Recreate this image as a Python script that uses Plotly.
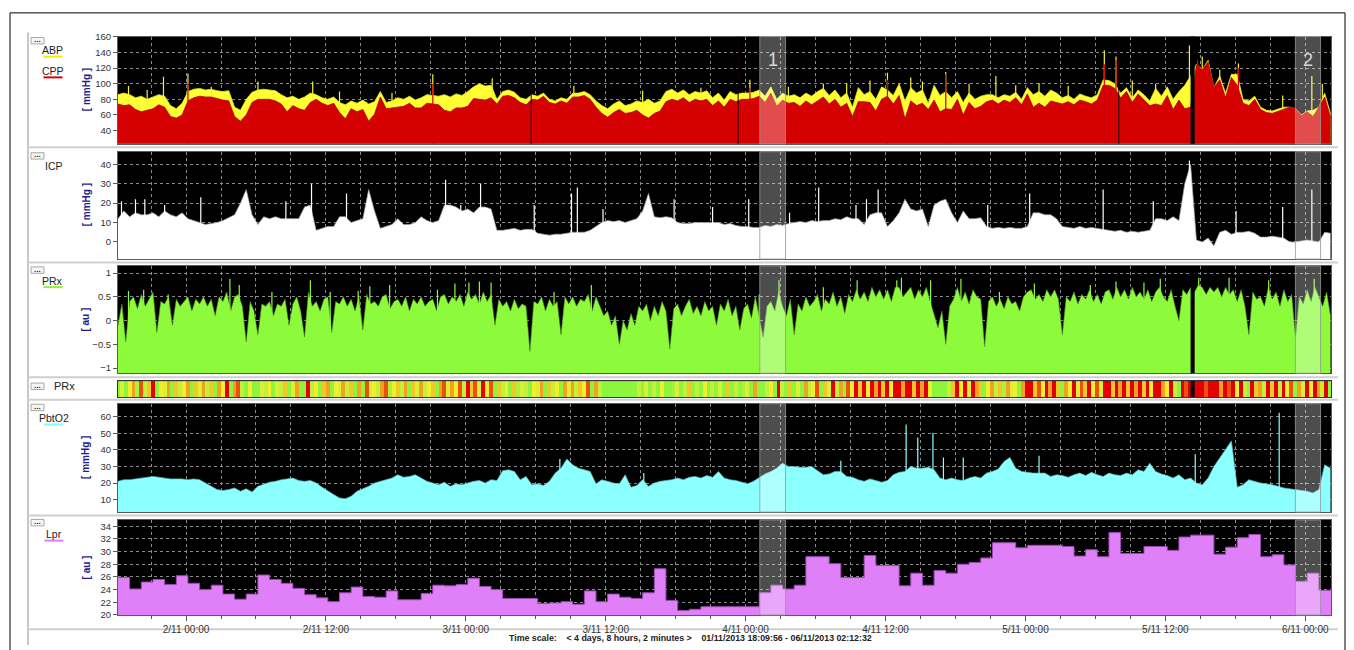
import numpy as np
import pandas as pd
import plotly.graph_objects as go

# ---------------- DATA ----------------
START = pd.Timestamp("2013-11-01 18:09:56")
END = pd.Timestamp("2013-11-06 02:12:32")

# half-hourly samples (hours from START = index * 0.5)
abp = [86,88,86,82,84,80,83,86,84,72,
       68,75,90,93,94,92,93,91,90,91,
       70,66,80,89,92,93,92,91,86,82,
       84,80,83,88,86,82,80,83,76,73,
       78,75,79,74,77,90,76,78,82,80,
       84,79,82,86,85,84,86,83,87,85,
       90,96,100,97,98,80,90,92,89,82,
       80,86,84,88,80,78,82,80,88,88,
       90,86,78,72,68,74,78,72,74,78,
       76,80,75,78,90,93,88,92,86,90,
       88,91,82,88,79,90,86,88,88,89,
       92,84,96,80,88,84,86,82,88,84,
       90,94,85,92,82,88,70,95,86,90,
       80,96,92,85,100,78,95,88,92,75,
       98,85,90,82,90,76,88,80,84,86,
       86,82,86,84,89,80,95,86,90,84,
       92,88,82,85,80,87,84,82,86,105,
       104,100,88,95,82,92,86,78,94,84,
       96,80,90,98,110,125,118,130,95,110,
       88,112,112,80,78,84,70,66,65,68,
       70,70,68,60,65,66,70,88,62]

cpp = [74,72,73,67,64,66,68,73,70,58,
       56,60,78,82,84,83,83,81,79,78,
       58,52,60,76,80,80,80,78,74,64,
       72,68,66,76,80,75,72,75,63,55,
       68,64,67,52,61,83,68,69,70,71,
       75,69,69,75,74,73,66,64,69,69,
       71,81,80,79,82,74,84,85,82,76,
       73,80,79,84,76,74,78,75,83,83,
       85,80,70,62,57,63,67,62,63,66,
       60,56,62,65,77,80,78,82,76,80,
       78,80,72,78,70,80,77,80,80,81,
       84,76,88,71,79,75,76,71,78,73,
       78,83,74,80,70,75,58,77,77,76,
       65,80,84,74,85,55,78,72,75,67,
       79,64,68,67,80,60,76,68,71,77,
       79,74,79,76,82,73,87,70,75,70,
       78,76,74,77,73,79,77,74,79,98,
       98,94,82,90,76,87,80,72,74,72,
       85,67,79,68,70,124,118,128,95,105,
       82,108,98,75,72,80,67,63,62,65,
       68,70,68,59,64,58,70,83,57]

icp = [12,16,13,15,14,14,15,13,16,14,
       13,15,12,11,10,9,9.5,10,11,12.5,
       14,20,27,14,9,13,12,13,12,12,
       12,12,18,19,6,7,8,8,13,13,
       10,11,12,27,16,7,8,9,12,9,
       9,10,13,11,10,11,19,19,18,16,
       17,15,18,18,17,6,6,6.5,7,6,
       6.5,6.5,4.5,4,3.5,4,4,4.5,5,5,
       5,6,8,10,11,10.5,11,10,11,12,
       16,25,13,12.5,13,12.5,10,9.5,9.5,10,
       10,10,10,10,9,9.5,8.5,8,8,7.5,
       7.5,8.5,8,9,8.5,9.5,10,10.5,10,11,
       10.5,11,11,12,11.5,13,12,12,9,14,
       15,15,8,11,15,22,17,16,17,8,
       19,21,22,15,10,16,12,12,12.5,8,
       7,7.5,7,7.5,7,7,8,15,15,14,
       14,12,8,7.5,7,8,7,7.5,7,6.5,
       6,5.5,6,5,5.5,5,5.5,6,12,12,
       11,13,11,30,40,1,0,2,-2,5,
       6,4,5,5,5.5,4.5,2.5,2.5,3,2.5,
       2,0,0,0.5,1,0.5,0,5,4.5]

pbto2 = [21,22, 22,22.5, 23,23.5, 24,23.5, 23,22.5, 22.5,22.5, 22,22.5, 22,20,
         17.5,16, 15.5,16, 17,15, 16.5,14.5, 18,19.5, 20.5,21, 22,22.5, 23,21.5,
         21,21.5, 20,17.5, 15,13, 11,10.5, 12,15, 16.5,18, 20,21, 22,23,
         25,23.5, 24,25, 23,21, 20,19, 20.5,18, 19.5,19, 20,21, 21.5,20,
         22,21.5, 27.5,28, 27,22, 24,19, 19.5,18.5, 21,26, 29,34.5, 31,29,
         28,27, 19.5,22, 21,20, 19.5,25, 17.5,18.5, 22,18, 20,21, 21.5,22,
         23,22, 23.5,24, 23,24.5, 23.5,27, 23,22, 21.5,20.5, 19.5,21, 23.5,25.5,
         27,29, 32,30, 30,29.5, 29.5,30, 27.5,25, 25.5,27, 27,24, 23.5,22,
         21,22.5, 21.5,20.5, 21.5,25, 26.5,27, 30,29, 29,29.5, 28,23, 22,23,
         22,21.5, 23,24, 23,26, 27,28.5, 33,35.5, 29,27, 26.5,26, 26,26,
         24,25, 24.5,23.5, 25,26, 24.5,26.5, 25,24, 26,25, 24.5,26, 25,28,
         27,32, 27,25.5, 24.5,23, 25,22, 23,20, 19,23, 30,35, 40,45.5,
         17.5,19, 22,21, 20,19.5, 19,18, 17,16.5, 16,15.5, 15,14, 16,31,
         29]

# thin needle artefacts (hours from START, value)
abp_spike_h = [0.9, 2.5, 3.9, 6.0, 8.0, 12.0, 16.7, 19.0, 23.5, 27.0, 32.1, 39.1, 45.0, 50.0, 54.2,
               57.5, 60.5, 62.5, 64.5, 66.0, 68.0, 69.0, 71.0, 73.0, 75.3, 77.0, 79.0, 81.5, 84.6,
               85.6, 87.0, 89.0, 91.9, 93.0, 94.5, 96.1, 99.9, 102.4, 103.3]
abp_spike_v = [97, 92, 109, 113, 96, 103, 103, 90, 88, 112, 107, 97, 91, 95, 105,
               96, 100, 101, 104, 114, 108, 103, 115, 100, 110, 98, 101, 97, 143,
               135, 104, 100, 149, 135, 118, 126, 85, 110, 100]
cpp_spike_h = [6.0, 27.0, 54.2, 66.0, 71.0, 84.6, 85.6, 92.6, 96.1]
cpp_spike_v = [100, 100, 95, 105, 112, 125, 130, 130, 120]
icp_spike_h = [0.3, 1.5, 2.3, 4.0, 7.1, 14.4, 16.6, 19.6, 28.1, 29.4, 31.1, 35.7, 38.9, 39.4, 41.6,
               47.7, 51.0, 54.1, 57.6, 60.1, 63.3, 64.2, 65.2, 74.6, 78.2, 84.5, 88.8, 91.9, 95.9,
               99.9, 102.4]
icp_spike_v = [21, 22, 22, 19, 23, 21, 30, 25, 32, 19, 30, 19, 25, 28, 17,
               22, 18, 22, 15, 28, 19, 22, 27, 19, 25, 27, 21, 42, 16,
               18, 27]
pbt_spike_h = [37.9, 45.1, 62.0, 67.6, 68.6, 69.9, 70.8, 72.5, 79.0, 92.4, 99.6]
pbt_spike_v = [34.5, 26, 33.5, 55.5, 47.5, 50.5, 35.5, 35.5, 36.5, 37.5, 62.6]

# PRx, 20-minute samples (hours from START = index / 3)
prx = [-0.1,0.35,-0.45, 0.4,0.5,0.25, 0.55,0.3,0.45, 0.6,-0.25,0.4,
       0.35,0.5,-0.1, 0.45,0.3,0.4, 0.5,0.2,0.45, 0.35,0.5,0.3,
       0.45,0.1,0.5, 0.4,0.6,0.2, 0.5,0.55,0.3, -0.45,0.4,0.2,
       -0.3,0.35,0.3, 0.4,0.1,0.35, 0.3,0.45,-0.1, 0.35,0.5,0.2,
       -0.35,0.6,0.3, 0.4,0.2,0.45, 0.5,-0.25,0.4, 0.35,0.5,0.3,
       0.45,0.2,0.5, -0.2,0.55,0.35, 0.4,0.3,0.5, 0.55,0.25,0.4,
       0.45,0.3,0.5, 0.2,0.45,0.35, 0.5,0.3,0.4, 0.45,0.2,0.5,
       0.55,0.35,0.5, 0.4,0.55,0.3, 0.6,0.45,0.55, 0.35,0.6,0.4,
       0.55,-0.1,0.45, 0.3,0.4,0.2, 0.45,0.25,0.35, 0.3,-0.65,0.4,
       0.35,0.5,0.2, 0.45,0.3,0.4, -0.3,0.5,0.35, 0.5,0.3,0.45,
       0.4,0.55,0.2, 0.5,0.3,0.1, 0.2,-0.1,0.1, -0.5,0.0,-0.2,
       0.15,-0.1,0.3, 0.2,0.35,0.0, 0.3,0.1,0.4, 0.2,-0.6,0.25,
       0.35,0.1,0.3, 0.45,0.15,0.3, 0.1,0.4,0.2, 0.3,-0.1,0.35,
       0.2,0.45,0.1, 0.3,-0.2,0.25, 0.35,0.05,0.5, 0.1,-0.35,0.3,
       0.4,0.2,0.6, 0.3,0.1,0.45, -0.3,0.35,0.2, 0.5,0.3,0.4,
       0.55,0.2,0.45, 0.35,0.6,0.3, 0.5,0.15,0.55, 0.4,0.65,0.45,
       0.6,0.4,0.7, 0.5,0.65,0.45, 0.65,0.4,0.7, 0.7,0.5,0.6,
       0.7,0.45,0.65, 0.5,0.7,0.4, 0.1,-0.15,0.2, -0.5,0.3,0.45,
       0.7,0.4,0.6, 0.35,0.65,0.5, 0.45,-0.55,0.4, 0.5,0.3,0.45,
       0.25,0.5,0.35, 0.4,0.2,0.5, 0.6,0.65,0.45, 0.55,0.4,0.65,
       0.5,0.65,0.45, -0.3,0.5,0.4, 0.6,0.35,0.55, 0.45,0.65,0.4,
       0.55,0.35,0.6, 0.65,0.45,0.7, 0.5,0.65,0.45, 0.7,0.5,0.6,
       0.45,0.65,0.4, 0.6,0.7,0.5, 0.4,0.65,0.3, 0.0,0.65,0.55,
       0.7,0.6,0.75, 0.7,0.55,0.7, 0.6,0.7,0.5, 0.7,0.55,0.65,
       0.4,0.65,0.3, -0.3,0.6,0.45, 0.5,0.3,0.7, 0.45,0.6,0.3,
       0.65,0.4,0.55, -0.35,0.5,0.35, 0.65,0.4,0.7, 0.5,0.3,0.6,
       0.1]
prx_spike_h = [0.9, 2.2, 4.3, 9.6, 10.4, 13.2, 16.5, 18.2, 20.6, 21.6, 23.3, 27.4, 28.9, 30.1, 31.0,
               32.0, 37.4, 40.6, 55.0, 56.7, 60.5, 63.4, 66.8, 67.2, 69.7, 72.3, 75.6, 78.6, 83.4,
               85.6, 88.0, 89.4, 92.7, 95.3, 98.7, 102.6]
prx_spike_v = [0.62, 0.65, 0.55, 0.88, 0.75, 0.6, 0.85, 0.6, 0.62, 0.72, 0.75, 0.65, 0.78, 0.8, 0.82,
               0.8, 0.6, 0.75, 0.55, 0.85, 0.7, 0.85, 0.85, 0.9, 0.85, 0.88, 0.6, 0.78, 0.75,
               0.82, 0.8, 0.88, 0.9, 0.9, 0.85, 0.88]

# Lpr, hourly values (hour k from START)
lpr = [25.9,24.1,25.2,25.6,24.8,26.2,25.0,24.0,24.7,23.3,
       22.5,23.3,26.3,25.6,25.0,24.2,23.2,22.7,22.1,23.5,
       24.4,22.9,22.8,23.8,22.4,22.4,23.4,24.7,24.6,24.8,
       25.8,24.5,24.0,22.6,22.6,22.6,21.8,21.9,22.1,21.7,
       23.8,22.1,23.3,22.8,22.6,23.5,27.3,22.3,20.7,20.9,
       21.3,21.3,21.3,21.3,21.3,23.5,24.7,24.1,24.7,29.2,
       29.2,28.1,25.9,25.9,29.4,27.8,27.8,24.6,26.6,24.7,
       27.0,26.6,28.0,28.3,29.0,31.4,31.4,30.6,31.0,31.0,
       31.0,30.8,29.3,30.3,29.2,33.0,29.7,29.7,30.8,30.8,
       30.2,32.3,32.6,32.6,29.6,30.7,32.2,32.7,29.2,29.5,
       27.9,25.3,26.6,23.9]

# marked episodes (hours from START) and data gaps
bands_h = [(55.05, 57.26), (100.99, 103.15)]
band_labels = ["1", "2"]
gap_span_h = (92.0, 92.35)
gap_lines_h = [35.44, 53.19, 85.84]

# axis ranges / ticks
ABP_RANGE, ABP_TICKS = [23, 160.5], [40, 60, 80, 100, 120, 140, 160]
ICP_RANGE, ICP_TICKS = [-8.8, 46.5], [0, 10, 20, 30, 40]
PRX_RANGE, PRX_TICKS = [-1.11, 1.15], [-1, -0.5, 0, 0.5, 1]
PBT_RANGE, PBT_TICKS = [2.4, 68], [10, 20, 30, 40, 50, 60]
LPR_RANGE, LPR_TICKS = [20, 35], [20, 22, 24, 26, 28, 30, 32, 34]

# ---------------- BUILD ----------------
def hrs(h):
    return START + pd.to_timedelta(np.asarray(h, dtype=float), unit="h")

t_main = hrs(np.arange(len(abp)) * 0.5)
t_prx = hrs(np.arange(len(prx)) / 3.0)
t_lpr = list(hrs(np.arange(len(lpr)))) + [END]
lpr_step = lpr + [lpr[-1]]

W, H = 1354, 650
X0, X1 = 118, 1331
FONT = "Liberation Sans Narrow, Liberation Sans, Arial Narrow, Arial, sans-serif"
GRID = "#8a8a8a"
AXL = "#5a5a5a"

rows = ["abp", "icp", "prx", "strip", "pbt", "lpr"]
ypx = {"abp": (32, 141), "icp": (149, 258), "prx": (265, 374),
       "strip": (382, 398), "pbt": (405, 515), "lpr": (523, 619.5)}
ranges = {"abp": (ABP_RANGE, ABP_TICKS), "icp": (ICP_RANGE, ICP_TICKS),
          "prx": (PRX_RANGE, PRX_TICKS), "pbt": (PBT_RANGE, PBT_TICKS),
          "lpr": (LPR_RANGE, LPR_TICKS)}
idx = {r: i + 1 for i, r in enumerate(rows)}
def xa(r): return "x" if idx[r] == 1 else f"x{idx[r]}"
def ya(r): return "y" if idx[r] == 1 else f"y{idx[r]}"

def needles(hs, vs, base):
    xs, ys = [], []
    for h, v in zip(hs, vs):
        t = hrs(h)
        xs += [t, t, None]
        ys += [base, v, None]
    return xs, ys

fig = go.Figure()
common = dict(hoverinfo="skip", showlegend=False, mode="lines")

def add_needles(hs, vs, base, color, r, width=1.2):
    xs, ys = needles(hs, vs, base)
    fig.add_trace(go.Scatter(x=xs, y=ys, line=dict(color=color, width=width),
                             xaxis=xa(r), yaxis=ya(r), connectgaps=False, **common))

# ABP / CPP
fig.add_trace(go.Scatter(x=t_main, y=abp, fill="tozeroy", fillcolor="#ffff33",
                         line=dict(color="#e6e62e", width=0.8), xaxis=xa("abp"), yaxis=ya("abp"), **common))
add_needles(abp_spike_h, abp_spike_v, 0, "#f4f430", "abp")
fig.add_trace(go.Scatter(x=t_main, y=cpp, fill="tozeroy", fillcolor="#d50000",
                         line=dict(color="#b00000", width=0.8), xaxis=xa("abp"), yaxis=ya("abp"), **common))
add_needles(cpp_spike_h, cpp_spike_v, 0, "#d50000", "abp")

# ICP
fig.add_trace(go.Scatter(x=t_main, y=[ICP_RANGE[0]] * len(icp), line=dict(width=0),
                         xaxis=xa("icp"), yaxis=ya("icp"), **common))
fig.add_trace(go.Scatter(x=t_main, y=icp, fill="tonexty", fillcolor="#ffffff",
                         line=dict(color="#a0a0a0", width=0.7), xaxis=xa("icp"), yaxis=ya("icp"), **common))
add_needles(icp_spike_h, icp_spike_v, ICP_RANGE[0], "#ffffff", "icp")

# PRx
fig.add_trace(go.Scatter(x=t_prx, y=[PRX_RANGE[0]] * len(prx), line=dict(width=0),
                         xaxis=xa("prx"), yaxis=ya("prx"), **common))
fig.add_trace(go.Scatter(x=t_prx, y=prx, fill="tonexty", fillcolor="#8dfb3c",
                         line=dict(color="#4f8f2a", width=0.6), xaxis=xa("prx"), yaxis=ya("prx"), **common))
add_needles(prx_spike_h, prx_spike_v, PRX_RANGE[0], "#8dfb3c", "prx")

# PRx colour strip
fig.add_trace(go.Heatmap(x=t_prx, y=[0.5], z=[prx], zmin=-0.2, zmax=0.8, showscale=False,
                         colorscale=[[0, "#8cf53c"], [0.4, "#8cf53c"], [0.5, "#c4f03a"],
                                     [0.6, "#f0f028"], [0.7, "#f4a020"], [0.8, "#e60000"], [1, "#e00000"]],
                         hoverinfo="skip", xaxis=xa("strip"), yaxis=ya("strip")))

# PbtO2
fig.add_trace(go.Scatter(x=t_main, y=pbto2, fill="tozeroy", fillcolor="#8cffff",
                         line=dict(color="#5cb8b8", width=0.7), xaxis=xa("pbt"), yaxis=ya("pbt"), **common))
add_needles(pbt_spike_h, pbt_spike_v, 0, "#8cffff", "pbt")

# Lpr
fig.add_trace(go.Scatter(x=t_lpr, y=lpr_step, fill="tozeroy", fillcolor="#e080f8", line_shape="hv",
                         line=dict(color="#9c48b4", width=1), xaxis=xa("lpr"), yaxis=ya("lpr"), **common))

layout = dict(width=W, height=H, margin=dict(l=0, r=0, t=0, b=0), autosize=False,
              paper_bgcolor="white", plot_bgcolor="black", showlegend=False,
              font=dict(family=FONT, size=10, color="#333333"))

for r in rows:
    n = idx[r]
    top, bot = ypx[r]
    xk = "xaxis" if n == 1 else f"xaxis{n}"
    yk = "yaxis" if n == 1 else f"yaxis{n}"
    xd = dict(domain=[X0 / W, X1 / W], anchor=ya(r), type="date", range=[START, END],
              showline=True, linecolor=AXL if r != "strip" else "#333333", mirror=True, zeroline=False,
              showticklabels=False, ticks="")
    if n != 1:
        xd["matches"] = "x"
    if r != "strip":
        xd.update(showgrid=True, gridcolor=GRID, griddash="dot", gridwidth=1,
                  dtick=12 * 3600 * 1000, tick0="2013-11-02 00:00:00",
                  minor=dict(dtick=3 * 3600 * 1000, tick0="2013-11-02 00:00:00", showgrid=True,
                             gridcolor=GRID, griddash="dot", gridwidth=1))
    else:
        xd.update(showgrid=False)
    if r == "lpr":
        xd.update(showticklabels=True, ticks="outside", ticklen=5, tickcolor=AXL,
                  tickformat="%-d/%m %H:%M", tickfont=dict(size=10, color="#333333"))
        xd["minor"].update(ticks="outside", ticklen=3, tickcolor=AXL)
    layout[xk] = xd

    yd = dict(domain=[1 - bot / H, 1 - top / H], anchor=xa(r), zeroline=False,
              showline=True, linecolor=AXL if r != "strip" else "#333333", mirror=True)
    if r == "strip":
        yd.update(range=[0, 1], showticklabels=False, showgrid=False, ticks="")
    else:
        rg, tk = ranges[r]
        yd.update(range=rg, tickvals=tk, ticks="outside", ticklen=4, tickcolor=AXL,
                  showgrid=True, gridcolor=GRID, griddash="dot", gridwidth=1,
                  tickfont=dict(size=9.5, color="#333333"))
    layout[yk] = yd

fig.update_layout(**layout)

shapes = []
annotations = []

def px(x): return x / W
def py(y): return 1 - y / H

def note(x, y, text, size, color="#222222", family="Liberation Sans, Arial, sans-serif", xref="paper", angle=0):
    annotations.append(dict(x=x, y=y, xref=xref, yref="paper", text=text, showarrow=False,
                            xanchor="center", yanchor="middle", textangle=angle,
                            font=dict(size=size, color=color, family=family)))

# chrome: frame, panel separators
shapes.append(dict(type="rect", xref="paper", yref="paper", x0=px(10), x1=px(1345), y0=-0.02, y1=py(8),
                   line=dict(color="black", width=1), layer="below"))
shapes.append(dict(type="line", xref="paper", yref="paper", x0=px(28), x1=px(28), y0=0, y1=py(28),
                   line=dict(color="#c8c8c8", width=2), layer="below"))
for ysep in [144.5, 261.5, 378, 401, 518.5, 634]:
    shapes.append(dict(type="line", xref="paper", yref="paper", x0=px(28), x1=px(1338), y0=py(ysep), y1=py(ysep),
                       line=dict(color="#cfcfcf", width=2), layer="below"))

# episode bands
for (h0, h1), lab in zip(bands_h, band_labels):
    for r in ["abp", "icp", "prx", "pbt", "lpr"]:
        shapes.append(dict(type="rect", xref=xa(r), yref=f"{ya(r)} domain", x0=hrs(h0), x1=hrs(h1), y0=0, y1=1,
                           fillcolor="rgba(255,255,255,0.30)", line=dict(color="rgba(150,150,150,0.8)", width=1),
                           layer="above"))
    note(hrs((h0 + h1) / 2), py(56), lab, 18, color="#d8d8d8", xref="x")

# data gaps
for r in ["abp", "prx", "strip"]:
    shapes.append(dict(type="rect", xref=xa(r), yref=f"{ya(r)} domain", x0=hrs(gap_span_h[0]), x1=hrs(gap_span_h[1]),
                       y0=0, y1=1, fillcolor="black", line=dict(width=0), layer="above"))
for g in gap_lines_h:
    shapes.append(dict(type="line", xref="x", yref="y domain", x0=hrs(g), x1=hrs(g), y0=0, y1=1,
                       line=dict(color="#1a0000", width=1), layer="above"))

# side buttons "..."
for r in rows:
    top = {"abp": 33, "icp": 150, "prx": 266, "strip": 384, "pbt": 405.5, "lpr": 522.5}[r]
    shapes.append(dict(type="rect", xref="paper", yref="paper", x0=px(31), x1=px(44), y0=py(top + 6.5), y1=py(top),
                       fillcolor="#f6f6f6", line=dict(color="#a8a8a8", width=1)))
    note(px(37.5), py(top + 2.2), "<b>...</b>", 8)

# channel labels with colour underline
labels = [("ABP", 53, 46, "#f0f000"), ("CPP", 53, 67, "#e00000"), ("ICP", 54, 163.5, None),
          ("PRx", 53, 280, "#8cf53c"), ("PbtO2", 53.5, 419.5, "#7fffff"), ("Lpr", 54, 537.5, "#e080f8")]
for txt, cx, cy, col in labels:
    note(px(cx), py(cy), txt, 10.5)
    if col:
        shapes.append(dict(type="line", xref="paper", yref="paper", x0=px(cx - 9.5), x1=px(cx + 9.5),
                           y0=py(cy + 6.5), y1=py(cy + 6.5), line=dict(color=col, width=2)))
note(px(64), py(387), "PRx", 11)

# unit titles
for r, unit in [("abp", "[ mmHg ]"), ("icp", "[ mmHg ]"), ("prx", "[ au ]"), ("pbt", "[ mmHg ]"), ("lpr", "[ au ]")]:
    top, bot = ypx[r]
    note(px(86), py((top + bot) / 2), f"<b>{unit}</b>", 10, color="#1e1e8c", angle=-90)

note(px(690), py(643),
     "<b>Time scale:&nbsp;&nbsp;&nbsp; &lt; 4 days, 8 hours, 2 minutes &gt;&nbsp;&nbsp;&nbsp; 01/11/2013 18:09:56 - 06/11/2013 02:12:32</b>",
     8.8, family=FONT)

fig.update_layout(shapes=shapes, annotations=annotations)
fig.write_html("out.html", config={"displayModeBar": False},
               post_script="document.body.style.margin='0px';")
